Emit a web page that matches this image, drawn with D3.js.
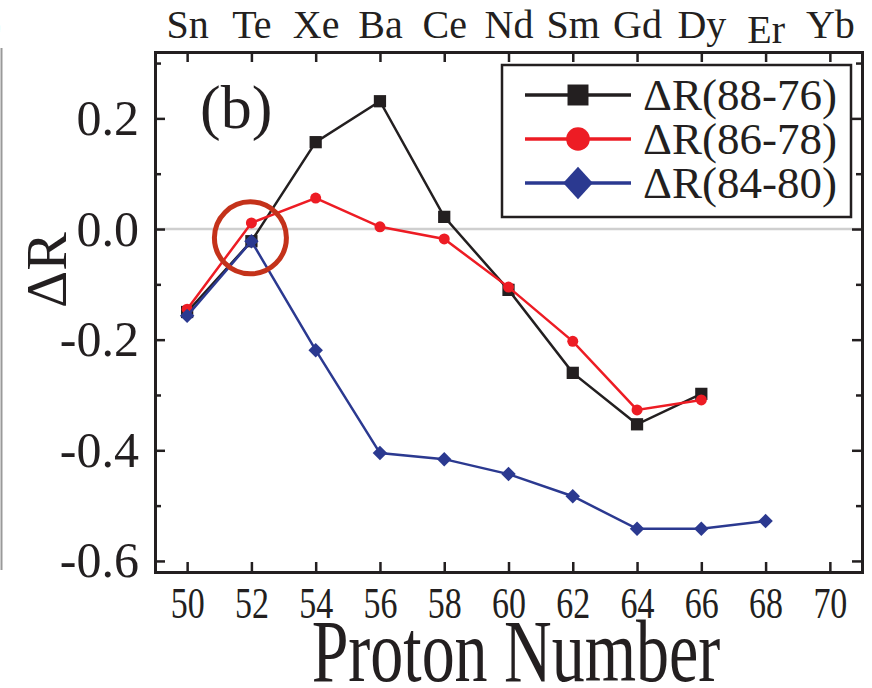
<!DOCTYPE html>
<html>
<head>
<meta charset="utf-8">
<script src="https://cdn.jsdelivr.net/npm/d3@7"></script>
<style>
  html, body { margin: 0; padding: 0; background: #fff; }
  svg text { font-family: "Times New Roman", "Liberation Serif", serif; fill: #231f20; }
</style>
</head>
<body>
<div class="chart"></div>
<script>
// proton numbers and element symbols along the top
const protons = [50, 52, 54, 56, 58, 60, 62, 64, 66, 68, 70]
const elements = ["Sn", "Te", "Xe", "Ba", "Ce", "Nd", "Sm", "Gd", "Dy", "Er", "Yb"]

// radius differences for each neutron pair
const z88_76 = [50, 52, 54, 56, 58, 60, 62, 64, 66]
const dr88_76 = [-0.150, -0.022, 0.157, 0.231, 0.022, -0.110, -0.260, -0.353, -0.298]

const z86_78 = [50, 52, 54, 56, 58, 60, 62, 64, 66]
const dr86_78 = [-0.145, 0.011, 0.056, 0.004, -0.018, -0.105, -0.203, -0.327, -0.309]

const z84_80 = [50, 52, 54, 56, 58, 60, 62, 64, 66, 68]
const dr84_80 = [-0.157, -0.022, -0.219, -0.405, -0.416, -0.443, -0.483, -0.542, -0.542, -0.528]

const yMajor = [-0.6, -0.4, -0.2, 0.0, 0.2]
const yMinor = [-0.5, -0.3, -0.1, 0.1, 0.3]

// diamond = square turned 45 degrees
const symbolRhomb = {
  draw(context, size) {
    const r = Math.sqrt(size / 2)
    context.moveTo(0, -r)
    context.lineTo(r, 0)
    context.lineTo(0, r)
    context.lineTo(-r, 0)
    context.closePath()
  }
}

const series = [
  {name: "\u0394R(88-76)", z: z88_76, v: dr88_76, color: "#231f20", symbol: d3.symbolSquare, size: 150, legendSize: 440},
  {name: "\u0394R(86-78)", z: z86_78, v: dr86_78, color: "#ed1c24", symbol: d3.symbolCircle, size: 95, legendSize: 440},
  {name: "\u0394R(84-80)", z: z84_80, v: dr84_80, color: "#2b3990", symbol: symbolRhomb, size: 105, legendSize: 440}
]

const W = 872, H = 688
const margin = {top: 52, right: 10, bottom: 116, left: 155}
const width = W - margin.left - margin.right,
    height = H - margin.top - margin.bottom

const svg = d3.select(".chart")
  .append("svg")
    .attr("width", W)
    .attr("height", H)

// bits of the neighbouring panel cut off at the left edge
svg.append("line")
  .attr("x1", 1.5).attr("x2", 1.5).attr("y1", 48).attr("y2", 570)
  .attr("stroke", "#999").attr("stroke-width", 2)
svg.append("text")
  .attr("x", -12).attr("y", 38)
  .style("font-size", "40px")
  .text(")")

const g = svg.append("g")
  .attr("transform", `translate(${margin.left},${margin.top})`)

const x = d3.scaleLinear().domain([49, 71]).range([0, width])
const y = d3.scaleLinear().domain([-0.62, 0.32]).range([height, 0])

const fmt = d => d3.format(".1f")(d).replace("\u2212", "-")

// zero line
g.append("line")
  .attr("x1", 0).attr("x2", width)
  .attr("y1", y(0)).attr("y2", y(0))
  .attr("stroke", "#cfcfcf").attr("stroke-width", 2.5)

// axes, ticks pointing inward
// bottom numbers are tall and narrow: small font stretched vertically
const xBottom = g.append("g")
  .attr("transform", `translate(0,${height})`)
  .call(d3.axisBottom(x).tickValues(protons).tickSize(-10).tickPadding(10.8).tickFormat(d3.format("d")))
xBottom.selectAll("text")
  .style("font-size", "34px")
  .attr("transform", "scale(1,1.32)")

const xTop = g.append("g")
  .call(d3.axisTop(x).tickValues(protons).tickSize(-10).tickPadding(14).tickFormat((d, i) => elements[i]))
xTop.selectAll("text")
  .style("font-size", "40px")
  .attr("dy", d => d === 68 ? "0.12em" : "0em")

const yLeft = g.append("g")
  .call(d3.axisLeft(y).tickValues(yMajor).tickSize(-10).tickPadding(16).tickFormat(fmt))
yLeft.selectAll("text").style("font-size", "50px")
g.append("g")
  .call(d3.axisLeft(y).tickValues(yMinor).tickSize(-6).tickFormat(""))

g.append("g")
  .attr("transform", `translate(${width},0)`)
  .call(d3.axisRight(y).tickValues(yMajor).tickSize(-10).tickFormat(""))
g.append("g")
  .attr("transform", `translate(${width},0)`)
  .call(d3.axisRight(y).tickValues(yMinor).tickSize(-6).tickFormat(""))

g.selectAll(".domain").attr("stroke", "#231f20").attr("stroke-width", 3)
g.selectAll(".tick line").attr("stroke", "#231f20").attr("stroke-width", 2.5)

// data lines and markers
const line = d3.line().x(d => x(d[0])).y(d => y(d[1]))
series.forEach(s => {
  const pts = s.z.map((z, i) => [z, s.v[i]])
  g.append("path")
    .datum(pts)
    .attr("fill", "none")
    .attr("stroke", s.color)
    .attr("stroke-width", 2.5)
    .attr("d", line)
  g.selectAll(null)
    .data(pts)
    .join("path")
      .attr("transform", d => `translate(${x(d[0])},${y(d[1])})`)
      .attr("d", d3.symbol().type(s.symbol).size(s.size))
      .attr("fill", s.color)
})

// highlight circle around Te
g.append("circle")
  .attr("cx", x(52) - 1).attr("cy", y(-0.016))
  .attr("r", 36)
  .attr("fill", "none")
  .attr("stroke", "#c4321a")
  .attr("stroke-width", 5)

// panel label
g.append("text")
  .attr("x", 45).attr("y", 76)
  .style("font-size", "62px")
  .text("(b)")

// legend
const legend = svg.append("g")
legend.append("rect")
  .attr("x", 502).attr("y", 65)
  .attr("width", 349).attr("height", 152)
  .attr("fill", "#fff")
  .attr("stroke", "#231f20").attr("stroke-width", 2.5)
series.forEach((s, i) => {
  const ly = 95 + i * 44
  legend.append("line")
    .attr("x1", 525).attr("x2", 631).attr("y1", ly).attr("y2", ly)
    .attr("stroke", s.color).attr("stroke-width", 3.5)
  legend.append("path")
    .attr("transform", `translate(578,${ly})` + (i === 2 ? " scale(1,1.1)" : ""))
    .attr("d", d3.symbol().type(s.symbol).size(s.legendSize))
    .attr("fill", s.color)
  legend.append("text")
    .attr("x", 643).attr("y", ly + 15)
    .style("font-size", "45px")
    .text(s.name)
})

// axis titles
svg.append("text")
  .attr("x", W / 2 + 80).attr("y", 681)
  .attr("text-anchor", "middle")
  .attr("transform", `translate(${W / 2 + 80},0) scale(0.75,1) translate(${-(W / 2 + 80)},0)`)
  .style("font-size", "88px")
  .text("Proton Number")

svg.append("text")
  .attr("transform", "translate(66,270) rotate(-90)")
  .attr("text-anchor", "middle")
  .style("font-size", "58px")
  .text("\u0394R")
</script>
</body>
</html>
